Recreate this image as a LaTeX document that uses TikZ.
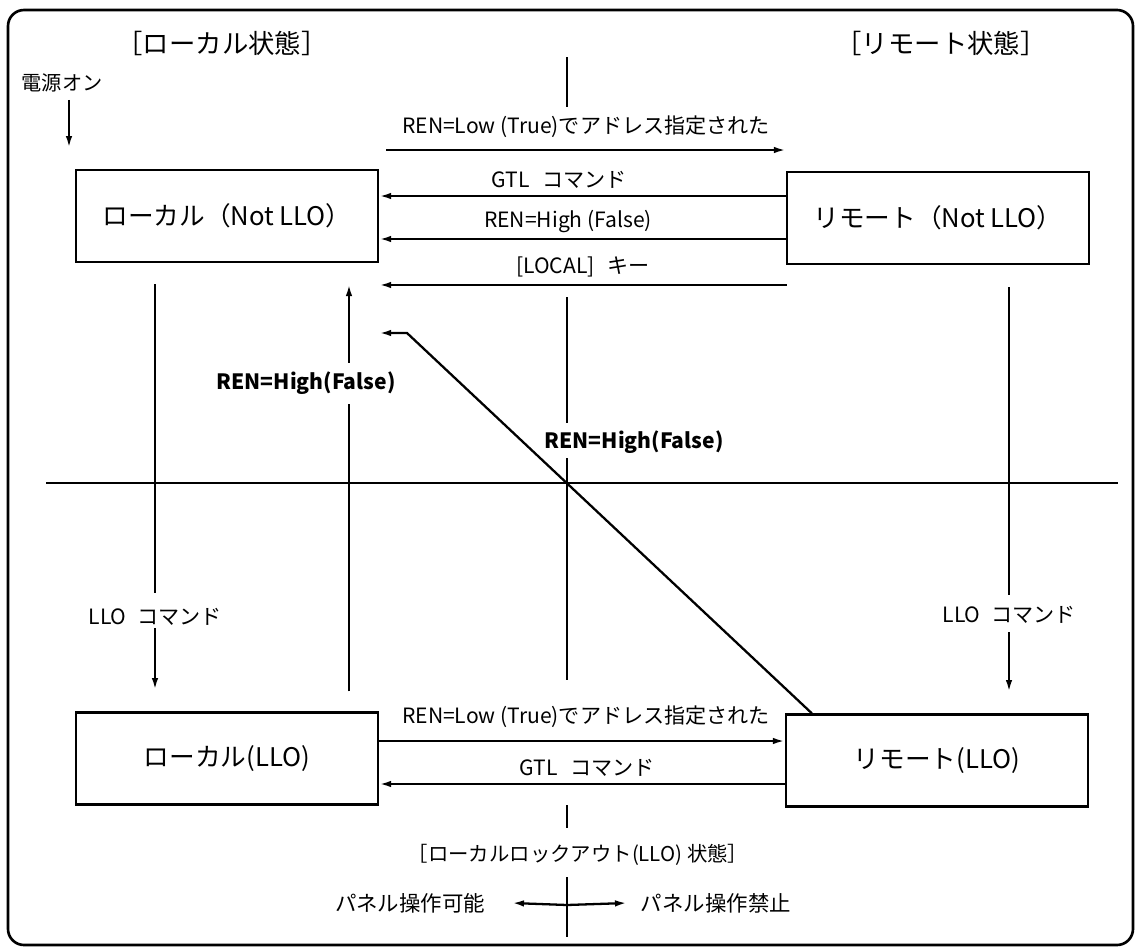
\documentclass[tikz,border=0pt]{standalone}
\usepackage{fontspec}
\setmainfont{Noto Sans CJK JP}
\usetikzlibrary{arrows.meta}

\begin{document}
\begin{tikzpicture}[x=0.02cm, y=-0.02cm, line width=1.3pt,
        state/.style={rectangle, draw, minimum width=6.04cm, minimum height=1.84cm, inner sep=0pt, font=\fontsize{14.6}{16}\selectfont},
        lbl/.style={font=\fontsize{12}{14}\selectfont, inner sep=1pt},
        blbl/.style={font=\fontsize{12}{14}\selectfont\bfseries, inner sep=1pt},
        head/.style={font=\fontsize{15}{17}\selectfont},
        arr/.style={-{Latex[length=2.4mm,width=1.3mm]}},
    ]
    \useasboundingbox (0,0) rectangle (1140,950);
    \draw[line width=1.5pt, rounded corners=0.32cm] (8,10) rectangle (1133,945);

    % headers
    \node[head] (hlocal) at (222,43) {［ローカル状態］};
    \node[head] (hremote) at (941,43) {［リモート状態］};
    \node[lbl, font=\fontsize{11.5}{13}\selectfont] (power) at (62,83) {電源オン};

    % states
    \node[state] (local) at (227,216) {ローカル（Not LLO）};
    \node[state] (remote) at (938,218) {リモート（Not LLO）};
    \node[state] (locallo) at (227,758.5) {ローカル(LLO)};
    \node[state] (remotello) at (937,760.5) {リモート(LLO)};

    % dividers
    \draw (46,483) -- (1118,483);
    \draw (567,57) -- (567,107);
    \draw (567,297) -- (567,423);
    \draw (567,458) -- (567,680);
    \draw (567,805) -- (567,828);
    \draw (567,877) -- (567,937);

    % labels
    \node[lbl] (tadr) at (586,127) {REN=Low (True)でアドレス指定された};
    \node[lbl] (tgtl) at (559,180) {GTL\hspace{0.6em}コマンド};
    \node[lbl] (thigh) at (568,222) {REN=High (False)};
    \node[lbl] (tkey) at (583,267) {[LOCAL]\hspace{0.6em}キー};
    \node[lbl] (badr) at (586,717) {REN=Low (True)でアドレス指定された};
    \node[lbl] (bgtl) at (587,768) {GTL\hspace{0.6em}コマンド};
    \node[blbl] (rena) at (306,383) {REN=High(False)};
    \node[blbl] (renb) at (634,442) {REN=High(False)};
    \node[lbl] (lloa) at (155,617) {LLO\hspace{0.5em}コマンド};
    \node[lbl] (llob) at (1009,615) {LLO\hspace{0.5em}コマンド};

    % power on
    \draw[arr] ([xshift=0.14cm,yshift=-0.34cm]power.center) -- ++(0,48);

    % local <-> remote
    \draw[arr] ([xshift=0.14cm,yshift=1.36cm]remote.west -| local.east) -- ([yshift=1.36cm]remote.west);
    \draw[arr] ([yshift=0.44cm]remote.west) -- ([yshift=0.44cm]remote.west -| local.east);
    \draw[arr] ([yshift=-0.42cm]remote.west) -- ([yshift=-0.42cm]remote.west -| local.east);
    \draw[arr] ([xshift=0.02cm,yshift=-1.34cm]remote.west) -- ([yshift=-1.34cm]remote.west -| local.east);
    \draw[arr] ([yshift=0.35cm]locallo.east) -- ([yshift=0.35cm]locallo.east -| remotello.west);
    \draw[arr] ([yshift=-0.47cm]remotello.west) -- ([yshift=-0.47cm]remotello.west -| locallo.east);

    % remote(LLO) -> local
    \coordinate (kink) at (407,333);
    \draw[arr] ([xshift=0.54cm]remotello.north west) -- (kink) -- (kink -| local.east);

    % LLO command
    \draw (local.south -| lloa) ++(0,21) -- ([yshift=0.48cm]lloa.center);
    \draw[arr] ([yshift=-0.22cm]lloa.center) -- ++(0,62);
    \draw (remote.south -| llob) ++(0,22) -- ([yshift=0.4cm]llob.center);
    \draw[arr] ([yshift=-0.34cm]llob.center) -- ++(0,60);

    % local(LLO) -> local
    \coordinate (up) at (349,0);
    \draw ([yshift=0.4cm]locallo.north -| up) -- ([yshift=-0.14cm]rena.south -| up);
    \draw[arr] ([yshift=0.12cm]rena.north -| up) -- ([yshift=-0.42cm]local.south -| up);

    % lockout
    \node[lbl, font=\fontsize{11.6}{13}\selectfont] (hllo) at (578,855) {［ローカルロックアウト(LLO) 状態］};
    \node[lbl, anchor=east, font=\fontsize{12.2}{14}\selectfont] (pok) at (488,903) {パネル操作可能};
    \node[lbl, anchor=west, font=\fontsize{12.2}{14}\selectfont] (png) at (638,903) {パネル操作禁止};
    \draw[arr] (567,905) -- ([xshift=0.48cm]pok.east);
    \draw[arr] (567,905) -- ([xshift=-0.22cm]png.west);
\end{tikzpicture}
\end{document}
